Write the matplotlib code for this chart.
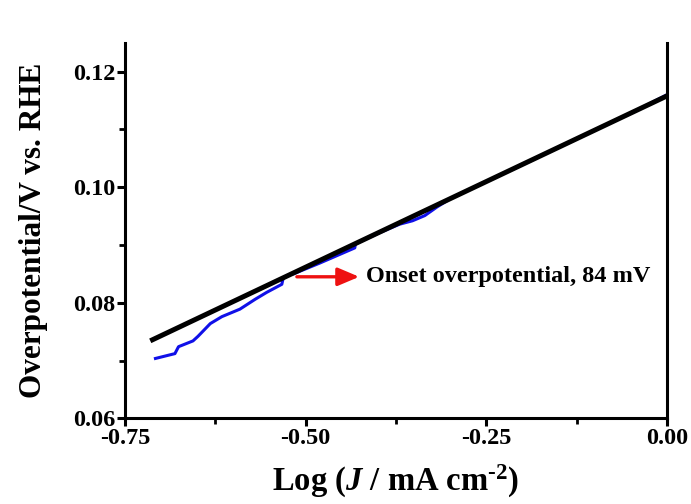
import numpy as np
import matplotlib
matplotlib.use("Agg")
import matplotlib.pyplot as plt
from matplotlib.ticker import MultipleLocator, FormatStrFormatter

# -----------------------------
# Data
# -----------------------------

# measured polarisation data (log J, overpotential)
log_j = [-0.710, -0.681, -0.676, -0.656, -0.649, -0.632, -0.616, -0.591,
         -0.570, -0.554, -0.533, -0.531, -0.518, -0.517, -0.480, -0.432,
         -0.431, -0.400, -0.370, -0.352, -0.335, -0.318, -0.300, -0.250,
         -0.200, -0.150, -0.100, -0.050, 0.000]
eta = [0.0703, 0.0712, 0.0724, 0.0734, 0.0742, 0.0764, 0.0776, 0.0789,
       0.0806, 0.0818, 0.0832, 0.0843, 0.0851, 0.0850, 0.0869, 0.0895,
       0.0902, 0.0920, 0.0936, 0.0942, 0.0951, 0.0966, 0.0980, 0.1010,
       0.1039, 0.1069, 0.1099, 0.1128, 0.1160]

# Tafel fit line
fit_x = [-0.712, 0.000]
fit_y = [0.0736, 0.1158]

# onset arrow
arrow_start = (-0.516, 0.0845)
arrow_end = (-0.422, 0.0845)
onset_label = "Onset overpotential, 84 mV"

# -----------------------------
# Plot
# -----------------------------

plt.rcParams["font.family"] = "Liberation Serif"
plt.rcParams["font.weight"] = "bold"
plt.rcParams["axes.unicode_minus"] = False
plt.rcParams["mathtext.fontset"] = "custom"
plt.rcParams["mathtext.rm"] = "Liberation Serif:bold"
plt.rcParams["mathtext.bf"] = "Liberation Serif:bold"
plt.rcParams["mathtext.it"] = "Liberation Serif:italic:bold"

fig = plt.figure(figsize=(6.91, 5.04), dpi=100)
ax = fig.add_axes([0.181, 0.170, 0.784, 0.745])

ax.plot(log_j, eta, color="#1010e8", lw=2.2, solid_capstyle="butt")
ax.plot(fit_x, fit_y, color="black", lw=3.6)

ax.annotate("", xy=arrow_end, xytext=arrow_start,
            arrowprops=dict(arrowstyle="-|>,head_length=1.3,head_width=0.55",
                            color="#ee1111", lw=2.4))
ax.text(-0.417, 0.0845, onset_label, fontsize=17.5, fontweight="bold",
        va="center", ha="left")

ax.set_xlim(-0.75, 0.0)
ax.set_ylim(0.06, 0.125)

ax.xaxis.set_major_locator(MultipleLocator(0.25))
ax.xaxis.set_minor_locator(MultipleLocator(0.125))
ax.yaxis.set_major_locator(MultipleLocator(0.02))
ax.yaxis.set_minor_locator(MultipleLocator(0.01))
ax.xaxis.set_major_formatter(FormatStrFormatter("%.2f"))
ax.yaxis.set_major_formatter(FormatStrFormatter("%.2f"))

ax.spines["top"].set_visible(False)
for s in ["left", "bottom", "right"]:
    ax.spines[s].set_linewidth(2.2)

ax.tick_params(which="major", direction="out", length=6, width=2.2,
               labelsize=17.5, pad=1)
ax.tick_params(which="minor", direction="out", length=4, width=2.0)
ax.tick_params(right=False, top=False, which="both")

ax.set_xlabel(r"Log ($\it{J}$ / mA cm$^{\text{-2}}$)",
              fontsize=23.5, fontweight="bold", labelpad=10)
ax.set_ylabel("Overpotential/V vs. RHE", fontsize=22.5, fontweight="bold",
              labelpad=18)

fig.savefig("out.png", dpi=100)
